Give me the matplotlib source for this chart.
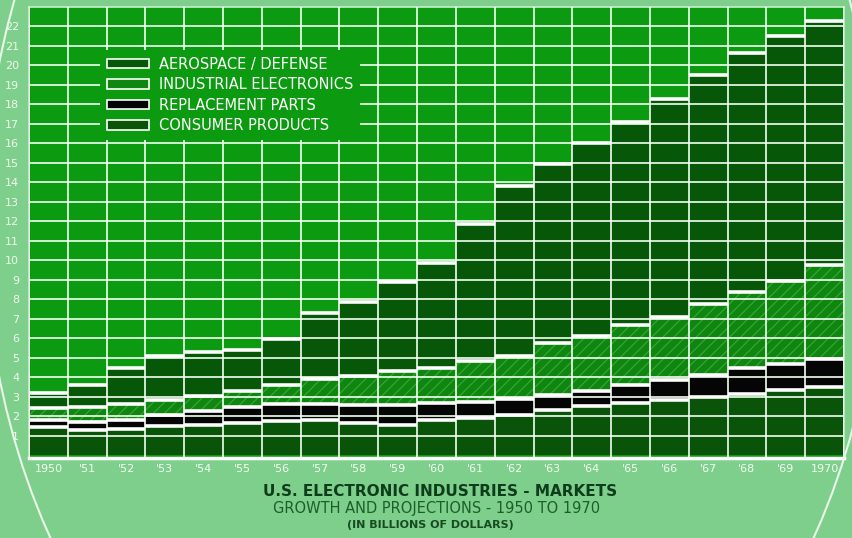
import numpy as np
import matplotlib.pyplot as plt
from matplotlib.patches import Patch, Ellipse

# valeurs (milliards de dollars)
years = ["1950", "'51", "'52", "'53", "'54", "'55", "'56", "'57", "'58", "'59", "'60",
         "'61", "'62", "'63", "'64", "'65", "'66", "'67", "'68", "'69", "1970"]
consumer = [1.45, 1.27, 1.35, 1.50, 1.55, 1.65, 1.73, 1.82, 1.65, 1.55, 1.82,
            1.90, 2.05, 2.30, 2.50, 2.68, 2.85, 3.00, 3.15, 3.35, 3.50]
replacement = [0.33, 0.45, 0.43, 0.55, 0.70, 0.80, 0.87, 0.78, 0.90, 1.00, 0.88,
               0.85, 0.85, 0.80, 0.80, 0.92, 1.00, 1.10, 1.30, 1.35, 1.45]
industrial = [0.64, 0.73, 0.82, 0.80, 0.77, 0.85, 1.02, 1.32, 1.49, 1.75, 1.77,
              2.06, 2.17, 2.65, 2.79, 3.09, 3.22, 3.67, 3.92, 4.26, 4.82]
aerospace = [0.78, 1.17, 1.87, 2.25, 2.25, 2.10, 2.34, 3.40, 3.80, 4.58, 5.39,
             7.05, 8.73, 9.18, 9.95, 10.41, 11.23, 11.73, 12.29, 12.54, 12.53]
y_ticks = list(range(1, 23))

outer_bg = '#7fcf8c'
plot_bg = '#0c9a10'
c_aero = '#065808'
c_ind = '#0f860f'
c_hatch = '#3aa83a'
c_rep = '#050505'
c_cons = '#095409'

plt.rcParams['hatch.linewidth'] = 0.8

fig = plt.figure(figsize=(8.53, 5.38), dpi=100, facecolor=outer_bg)
ax = fig.add_axes([29 / 853, 80.5 / 538, 815 / 853, 450.5 / 538])
ax.set_facecolor(plot_bg)

x = np.arange(len(years))
b0 = np.zeros(len(years))
b1 = b0 + np.array(consumer)
b2 = b1 + np.array(replacement)
b3 = b2 + np.array(industrial)
b4 = b3 + np.array(aerospace)

ax.bar(x, consumer, width=1.0, bottom=b0, color=c_cons, linewidth=0)
ax.bar(x, replacement, width=1.0, bottom=b1, color=c_rep, linewidth=0)
ax.bar(x, industrial, width=1.0, bottom=b2, color=c_ind, edgecolor=c_hatch,
       hatch='///', linewidth=0)
ax.bar(x, aerospace, width=1.0, bottom=b3, color=c_aero, linewidth=0)

# trait blanc au sommet de chaque segment
for tops in (b1, b2, b3, b4):
    ax.hlines(tops, x - 0.5, x + 0.5, colors='white', linewidth=2.6, zorder=3)

ax.set_xlim(-0.5, len(years) - 0.5)
ax.set_ylim(-0.12, 23)
ax.set_yticks(y_ticks)
ax.set_yticklabels([str(v) for v in y_ticks])
ax.set_xticks(x)
ax.set_xticklabels(years)
ax.set_xticks(np.arange(-0.5, len(years), 1.0), minor=True)

ax.set_axisbelow(False)
ax.grid(axis='y', which='major', color='#f2fff2', linewidth=1.2)
ax.grid(axis='x', which='minor', color='#f2fff2', linewidth=1.2)
ax.tick_params(axis='both', which='both', length=0)
ax.tick_params(axis='y', pad=7, labelsize=8, labelcolor='#eefaee')
ax.tick_params(axis='x', pad=5, labelsize=8, labelcolor='#f4fff4')

for side in ('top', 'left', 'right'):
    ax.spines[side].set_color('#cdeecd')
    ax.spines[side].set_linewidth(1.2)
ax.spines['bottom'].set_color('white')
ax.spines['bottom'].set_linewidth(2.5)

handles = [
    Patch(facecolor=c_aero, edgecolor='white', linewidth=1.2),
    Patch(facecolor=c_ind, edgecolor='white', linewidth=1.2),
    Patch(facecolor=c_rep, edgecolor='white', linewidth=1.2),
    Patch(facecolor=c_cons, edgecolor='white', linewidth=1.2),
]
labels = ['AEROSPACE / DEFENSE', 'INDUSTRIAL ELECTRONICS', 'REPLACEMENT PARTS', 'CONSUMER PRODUCTS']
leg = ax.legend(handles, labels, loc='upper left', bbox_to_anchor=(100 / 853, 1 - 50 / 538),
                bbox_transform=fig.transFigure, frameon=True, facecolor=plot_bg,
                edgecolor='none', framealpha=1, fancybox=False, fontsize=10.5,
                handlelength=2.9, handleheight=0.65, labelspacing=0.38,
                handletextpad=0.7, borderpad=0.45, borderaxespad=0)
for t in leg.get_texts():
    t.set_color('white')

# titre sous le graphique
fig.text(440 / 853, 1 - 492 / 538, 'U.S. ELECTRONIC INDUSTRIES - MARKETS', ha='center', va='center',
         fontsize=11, fontweight='bold', color='#0d3d1a')
fig.text(437 / 853, 1 - 508.5 / 538, 'GROWTH AND PROJECTIONS - 1950 TO 1970', ha='center', va='center',
         fontsize=10.5, color='#1b5e2a')
fig.text(430 / 853, 1 - 524.5 / 538, '(IN BILLIONS OF DOLLARS)', ha='center', va='center',
         fontsize=8, fontweight='bold', color='#184a22')

# contour clair autour de la planche
fig.patches.append(Ellipse((432 / 853, 318 / 538), 896 / 853, 1214 / 538, transform=fig.transFigure,
                           fill=False, edgecolor='#e8f8ea', linewidth=1.5, zorder=0))

fig.savefig('out.png', dpi=100, facecolor=fig.get_facecolor())
